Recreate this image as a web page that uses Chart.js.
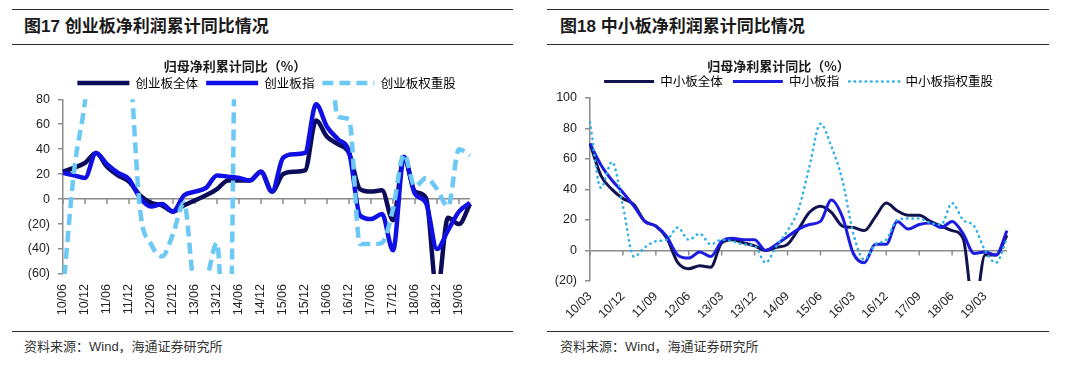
<!DOCTYPE html>
<html>
<head>
<meta charset="utf-8">
<script src="https://cdn.jsdelivr.net/npm/chart.js@4.4.1/dist/chart.umd.min.js"></script>
<style>
body { margin: 0; background: #fff; }
#page { position: relative; width: 1080px; height: 367px; overflow: hidden; background: #fff; }
.rule { position: absolute; height: 0; border-top: 1.5px solid #2b2b2b; }
.head { position: absolute; top: 17px; font: bold 17px/20px "Liberation Sans", "Noto Sans CJK SC", sans-serif; color: #1a1a1a; white-space: nowrap; }
.foot { position: absolute; top: 338px; font: 13px/18px "Liberation Sans", "Noto Sans CJK SC", sans-serif; color: #333; white-space: nowrap; }
canvas { position: absolute; }
</style>
</head>
<body>
<div id="page">
  <div class="rule" style="left:12px;width:501px;top:9px"></div>
  <div class="rule" style="left:12px;width:501px;top:44px"></div>
  <div class="rule" style="left:12px;width:501px;top:331px"></div>
  <div class="head" style="left:24px">图17 创业板净利润累计同比情况</div>
  <div class="foot" style="left:24px">资料来源：Wind，海通证券研究所</div>

  <div class="rule" style="left:547px;width:502px;top:9px"></div>
  <div class="rule" style="left:547px;width:502px;top:44px"></div>
  <div class="rule" style="left:547px;width:502px;top:331px"></div>
  <div class="head" style="left:560px">图18 中小板净利润累计同比情况</div>
  <div class="foot" style="left:560px">资料来源：Wind，海通证券研究所</div>

  <canvas id="cyb" width="494" height="290" style="left:0;top:50px"></canvas>
  <canvas id="zxb" width="526" height="290" style="left:550px;top:50px"></canvas>
</div>
<script>
// 创业板 (quarterly, 10/06 - 19/09)
const cybLabels = ['10/06','10/09','10/12','11/03','11/06','11/09','11/12','12/03','12/06','12/09','12/12',
  '13/03','13/06','13/09','13/12','14/03','14/06','14/09','14/12','15/03','15/06','15/09','15/12',
  '16/03','16/06','16/09','16/12','17/03','17/06','17/09','17/12','18/03','18/06','18/09','18/12',
  '19/03','19/06','19/09'];
const cybShown = ['10/06','10/12','11/06','11/12','12/06','12/12','13/06','13/12','14/06','14/12',
  '15/06','15/12','16/06','16/12','17/06','17/12','18/06','18/12','19/06'];
const cybAll = [22,25,29,37,26,19,14,3,-3,-5,-10,-5,-1,3,8,15,15,15,22,6,20,22,23,63,50,44,37,8,6,7,-17,33,6,1,-75,-15,-20,-4];
const cybIdx = [21,19,17,37,28,21,16,1,-6,-4,-10,3,6,9,19,18,17,15,22,6,33,36,37,76,58,48,38,-13,-16,-12,-41,34,4,-3,-40,-25,-10,-3];
const cybWeight = [-75,22,78,160,200,180,120,-8,-36,-46,-28,-3,-70,-65,-35,-200,300,180,150,130,160,200,200,200,150,66,64,-36,-36,-35,-8,36,10,17,8,-6,40,35];

// 中小板 (quarterly, 10/03 - 19/09)
const zxbLabels = ['10/03','10/06','10/09','10/12','11/03','11/06','11/09','11/12','12/03','12/06','12/09','12/12',
  '13/03','13/06','13/09','13/12','14/03','14/06','14/09','14/12','15/03','15/06','15/09','15/12',
  '16/03','16/06','16/09','16/12','17/03','17/06','17/09','17/12','18/03','18/06','18/09','18/12',
  '19/03','19/06','19/09'];
const zxbShown = ['10/03','10/12','11/09','12/06','13/03','13/12','14/09','15/06','16/03','16/12','17/09','18/06','19/03'];
const zxbAll = [70,49,40,34,30,19,16,8,-8,-12,-10,-11,5,7,5,3,0,2,4,14,25,29,25,16,15,13,22,31,26,23,23,19,16,13,8,-40,-3,-3,10];
const zxbIdx = [70,56,46,38,29,19,16,9,-3,-5,-1,-4,6,8,7,7,0,4,9,14,17,19,33,22,-2,-8,4,4,19,14,17,18,15,19,11,-2,-1,-3,13];
const zxbWeight = [84,41,58,29,-4,2,6,7,15,7,11,4,7,6,4,3,-8,3,13,27,55,83,68,46,11,-6,4,7,20,21,21,18,17,31,20,16,0,-8,8];

const axisGrey = '#8c8c8c';

// small tick marks hanging under the zero line
const zeroTicks = {
  id: 'zeroTicks',
  beforeDatasetsDraw(chart, args, opts) {
    const xs = chart.scales.x, ys = chart.scales.y, ctx = chart.ctx;
    const y0 = ys.getPixelForValue(0);
    ctx.save();
    ctx.strokeStyle = axisGrey;
    ctx.lineWidth = 1.5;
    ctx.beginPath();
    opts.shown.forEach(l => {
      const px = xs.getPixelForValue(chart.data.labels.indexOf(l));
      ctx.moveTo(px, y0);
      ctx.lineTo(px, y0 + 5);
    });
    ctx.stroke();
    ctx.restore();
  }
};

function lineSet(label, data, color, width, dash, cap, order) {
  return {
    label: label, data: data,
    borderColor: color, backgroundColor: color,
    borderWidth: width, borderDash: dash, borderCapStyle: cap,
    pointRadius: 0, cubicInterpolationMode: 'monotone', order: order
  };
}

function drawPanel(id, labels, shown, sets, yMin, yMax, o) {
  return new Chart(document.getElementById(id), {
    type: 'line',
    data: { labels: labels, datasets: sets },
    plugins: [zeroTicks],
    options: {
      responsive: false,
      animation: false,
      devicePixelRatio: 1,
      layout: { padding: { left: 0, right: o.padRight, top: 0, bottom: 0 } },
      plugins: {
        title: {
          display: true,
          text: '归母净利累计同比（%）',
          color: '#1a1a1a',
          font: { family: 'Noto Sans CJK SC', size: 13, weight: 'bold', lineHeight: 1.2 },
          padding: { top: 8.2, bottom: o.titleGap }
        },
        legend: {
          fullSize: false,
          labels: {
            usePointStyle: true,
            pointStyleWidth: o.sample,
            padding: o.legendPad,
            color: '#333',
            font: { family: 'Noto Sans CJK SC', size: 12.5 },
            generateLabels: chart => chart.data.datasets.map((ds, i) => ({
              text: ds.label,
              fillStyle: ds.borderColor,
              strokeStyle: ds.borderColor,
              lineWidth: ds.borderWidth,
              lineDash: ds.borderDash,
              lineCap: ds.borderCapStyle,
              pointStyle: 'line',
              hidden: false,
              datasetIndex: i
            }))
          }
        },
        tooltip: { enabled: false },
        zeroTicks: { shown: shown }
      },
      scales: {
        x: {
          grid: { display: false, drawTicks: false },
          border: { display: false },
          ticks: {
            autoSkip: false,
            minRotation: o.rot,
            maxRotation: o.rot,
            padding: o.tickPad,
            color: '#222',
            font: { family: 'Liberation Sans', size: 12.5 },
            callback: (v, i) => shown.includes(labels[i]) ? labels[i] : null
          },
          afterFit: s => { s.height = o.xHeight; }
        },
        y: {
          min: yMin,
          max: yMax,
          grid: {
            color: c => (c.tick && c.tick.value === 0) ? axisGrey : 'rgba(0,0,0,0)',
            lineWidth: 1.5,
            tickColor: axisGrey,
            tickLength: 5
          },
          border: { color: axisGrey, width: 1.5 },
          ticks: {
            stepSize: 20,
            padding: 8,
            color: '#222',
            font: { family: 'Liberation Sans', size: 12.5 },
            callback: v => v < 0 ? '(' + (-v) + ')' : v
          },
          afterFit: s => { s.width = o.yWidth; }
        }
      }
    }
  });
}

drawPanel('cyb', cybLabels, cybShown, [
  lineSet('创业板全体', cybAll, '#0c0c5a', 4.5, [], 'butt', 3),
  lineSet('创业板指', cybIdx, '#1010e4', 4.5, [], 'butt', 2),
  lineSet('创业板权重股', cybWeight, '#6cc8f5', 4.5, [11, 6], 'butt', 1)
], -60, 80, { padRight: 24, yWidth: 63, xHeight: 66, rot: 90, tickPad: 10, titleGap: -5.05, legendPad: 8, sample: 52 });

drawPanel('zxb', zxbLabels, zxbShown, [
  lineSet('中小板全体', zxbAll, '#12124e', 3, [], 'butt', 3),
  lineSet('中小板指', zxbIdx, '#1c1ce0', 3, [], 'butt', 2),
  lineSet('中小板指权重股', zxbWeight, '#2eb2e6', 2.5, [0.5, 5], 'round', 1)
], -20, 100, { padRight: 69, yWidth: 40, xHeight: 59, rot: 45, tickPad: 8, titleGap: -8.55, legendPad: 10, sample: 50 });
</script>
</body>
</html>
